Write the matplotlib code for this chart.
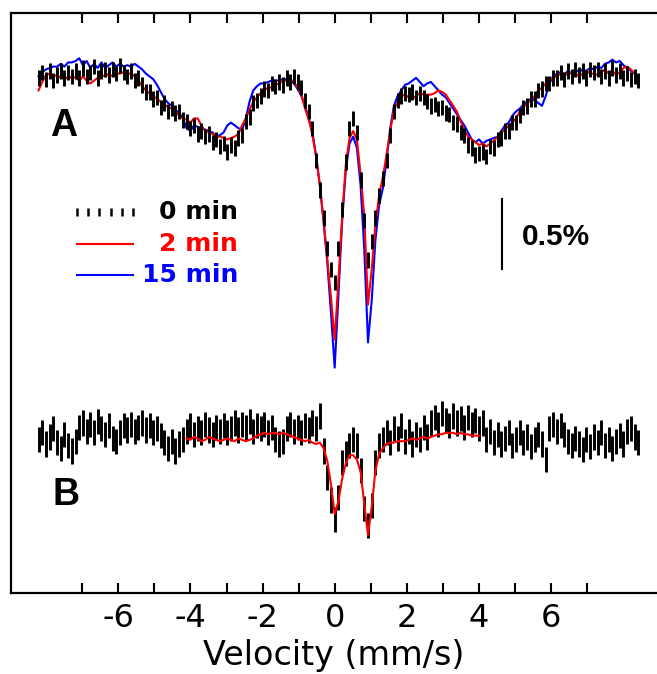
import matplotlib
matplotlib.use("Agg")
import matplotlib.pyplot as plt
import numpy as np

plt.rcParams['axes.unicode_minus'] = False

# ---------------- data ----------------
# channel velocity calibration (mm/s)
V_STEP = 0.1027
channels = np.arange(-80, 83)
velocity = channels * V_STEP

# Spectrum A: absorption depth (%) for 0 min (with error bars), 2 min, 15 min
black_A = np.array([
    0.02, -0.02, 0.03, -0.03, 0.04, 0.00, -0.03, 0.02, -0.02, 0.01,
    -0.03, 0.02, -0.05, 0.01, -0.02, -0.06, 0.02, -0.03, -0.04, 0.00,
    -0.04, -0.01, -0.07, -0.02, 0.01, -0.03, 0.04, 0.02, 0.07, 0.12,
    0.12, 0.17, 0.16, 0.23, 0.20, 0.26, 0.24, 0.27, 0.26, 0.32,
    0.33, 0.38, 0.36, 0.42, 0.40, 0.44, 0.42, 0.48, 0.46, 0.51,
    0.49, 0.55, 0.50, 0.52, 0.45, 0.43, 0.33, 0.30, 0.20, 0.18,
    0.15, 0.10, 0.11, 0.06, 0.08, 0.05, 0.07, 0.02, 0.05, 0.01,
    0.05, 0.09, 0.18, 0.26, 0.38, 0.61, 0.82, 1.02, 1.24, 1.39,
    1.48,
    1.24, 0.96, 0.62, 0.38, 0.31, 0.41, 0.75, 1.04, 1.32, 1.19,
    1.02, 0.86, 0.74, 0.61, 0.43, 0.26, 0.18, 0.15, 0.13,
    0.14, 0.12, 0.16, 0.13, 0.16, 0.19, 0.22, 0.21, 0.24, 0.23,
    0.27, 0.28, 0.34, 0.35, 0.41, 0.43, 0.50, 0.52, 0.57, 0.56,
    0.55, 0.58, 0.51, 0.52, 0.46, 0.45, 0.40, 0.40, 0.34, 0.34,
    0.29, 0.23, 0.22, 0.17, 0.17, 0.11, 0.10, 0.06, 0.06, 0.02,
    0.02, -0.02, 0.03, -0.03, 0.01, -0.04, 0.00, -0.03, 0.02, -0.04,
    -0.02, -0.04, 0.01, -0.03, 0.02, -0.05, 0.00, -0.03, 0.02, -0.01,
    0.03, 0.01, 0.04])

red_A = np.array([
    0.11, 0.05, 0.00, -0.01, 0.01, 0.00, 0.02, 0.01, 0.03, 0.01,
    0.02, 0.04, 0.01, 0.04, 0.06, 0.04, 0.02, 0.00, 0.01, -0.01,
    0.01, -0.01, -0.01, -0.02, -0.01, -0.01, 0.01, 0.04, 0.08, 0.11,
    0.13, 0.15, 0.17, 0.19, 0.21, 0.23, 0.24, 0.26, 0.29, 0.31,
    0.32, 0.34, 0.31, 0.31, 0.36, 0.40, 0.41, 0.42, 0.44, 0.44,
    0.45, 0.46, 0.45, 0.44, 0.42, 0.36, 0.31, 0.25, 0.19, 0.16,
    0.13, 0.11, 0.09, 0.09, 0.07, 0.06, 0.04, 0.04, 0.03, 0.05,
    0.09, 0.14, 0.24, 0.32, 0.43, 0.59, 0.79, 1.04, 1.31, 1.59,
    1.89,
    1.47, 1.02, 0.64, 0.45, 0.40, 0.46, 0.71, 1.01, 1.64, 1.39,
    1.07, 0.86, 0.73, 0.57, 0.40, 0.25, 0.19, 0.15, 0.14,
    0.16, 0.17, 0.15, 0.13, 0.14, 0.14, 0.14, 0.13, 0.11, 0.12,
    0.14, 0.18, 0.22, 0.26, 0.33, 0.39, 0.44, 0.46, 0.48, 0.50,
    0.49, 0.51, 0.49, 0.47, 0.44, 0.41, 0.39, 0.36, 0.34, 0.31,
    0.26, 0.23, 0.20, 0.18, 0.15, 0.11, 0.09, 0.06, 0.04, 0.02,
    0.01, -0.01, -0.01, 0.00, -0.02, -0.01, 0.01, -0.01, -0.03, -0.01,
    -0.01, 0.00, -0.02, -0.04, -0.01, -0.03, 0.00, -0.02, -0.05, -0.06,
    -0.04, -0.01, 0.02])

blue_A = np.array([
    0.01, -0.02, -0.04, -0.05, -0.06, -0.06, -0.08, -0.06, -0.09, -0.09,
    -0.10, -0.12, -0.07, -0.10, -0.05, -0.08, -0.05, -0.09, -0.05, -0.07,
    -0.09, -0.06, -0.08, -0.06, -0.07, -0.06, -0.08, -0.06, -0.04, -0.01,
    0.01, 0.03, 0.07, 0.12, 0.17, 0.20, 0.22, 0.25, 0.27, 0.31,
    0.38, 0.40, 0.36, 0.37, 0.38, 0.39, 0.40, 0.41, 0.44, 0.43,
    0.41, 0.36, 0.34, 0.36, 0.38, 0.39, 0.31, 0.19, 0.11, 0.08,
    0.06, 0.06, 0.05, 0.04, 0.04, 0.04, 0.03, 0.03, 0.04, 0.06,
    0.10, 0.15, 0.22, 0.31, 0.41, 0.58, 0.79, 1.05, 1.34, 1.70,
    2.09,
    1.58, 1.05, 0.68, 0.49, 0.44, 0.52, 0.79, 1.25, 1.91, 1.61,
    1.18, 0.93, 0.81, 0.61, 0.38, 0.22, 0.15, 0.11, 0.07,
    0.06, 0.04, 0.02, 0.05, 0.08, 0.06, 0.05, 0.08, 0.11, 0.14,
    0.16, 0.20, 0.24, 0.28, 0.32, 0.36, 0.41, 0.46, 0.48, 0.46,
    0.49, 0.47, 0.46, 0.45, 0.44, 0.40, 0.36, 0.34, 0.29, 0.26,
    0.24, 0.21, 0.19, 0.17, 0.18, 0.20, 0.22, 0.15, 0.06, 0.01,
    -0.01, -0.02, 0.00, -0.03, -0.01, -0.04, -0.02, -0.04, -0.03, -0.05,
    -0.04, -0.06, -0.05, -0.08, -0.09, -0.11, -0.09, -0.10, -0.07, -0.05,
    -0.03, -0.01, 0.01])

# Spectrum B: difference spectrum depth (%) and its fit (fit covers channels -40..39)
black_B = np.array([
    0.02, -0.03, 0.05, 0.00, -0.06, 0.04, 0.08, -0.02, 0.06, 0.10,
    0.03, -0.07, -0.10, -0.04, -0.09, -0.03, -0.11, -0.06, -0.02, -0.08,
    0.01, 0.03, -0.03, -0.08, -0.05, -0.09, -0.04, -0.07, -0.10, -0.05,
    -0.08, -0.03, -0.06, -0.01, 0.04, 0.08, 0.03, 0.10, 0.05, 0.02,
    -0.04, -0.08, -0.02, -0.06, -0.03, -0.09, -0.05, -0.02, -0.07, -0.04,
    -0.08, -0.03, -0.06, -0.10, -0.05, -0.09, -0.07, -0.11, -0.04, -0.08,
    -0.06, -0.09, -0.03, -0.07, 0.02, 0.05, 0.03, -0.06, -0.09, -0.04,
    -0.07, -0.03, -0.08, -0.05, -0.10, -0.06, -0.15, 0.10, 0.29, 0.45,
    0.59,
    0.43, 0.18, 0.12, 0.06, 0.02, 0.06, 0.24, 0.51, 0.63, 0.49,
    0.18, 0.06, 0.02, -0.03, 0.04, -0.06, 0.01, -0.08, 0.03,
    -0.04, 0.05, -0.02, 0.02, -0.07, 0.00, -0.10, -0.14, -0.09, -0.17,
    -0.12, -0.08, -0.15, -0.10, -0.13, -0.07, -0.14, -0.09, -0.12, -0.06,
    -0.10, 0.02, -0.04, 0.04, -0.02, 0.05, 0.01, -0.03, 0.06, 0.02,
    -0.03, 0.04, 0.00, 0.07, 0.02, -0.02, 0.05, 0.16, -0.06, -0.09,
    -0.04, -0.08, -0.02, 0.03, 0.06, 0.01, 0.05, 0.09, 0.02, 0.07,
    0.00, 0.04, -0.03, 0.06, 0.02, 0.08, 0.03, -0.01, 0.05, -0.04,
    -0.06, 0.00, 0.04])

red_B = np.array([
    0.01, 0.02, 0.00, 0.01, 0.03, 0.02, 0.00, 0.01, 0.02, 0.03,
    0.02, 0.01, 0.02, 0.03, 0.01, 0.02, 0.03, 0.02, 0.01, -0.01,
    -0.02, -0.03, -0.02, -0.03, -0.03, -0.02, -0.03, -0.02, -0.01, 0.00,
    0.01, 0.02, 0.03, 0.02, 0.04, 0.05, 0.04, 0.08, 0.17, 0.34,
    0.55,
    0.46, 0.30, 0.19, 0.13, 0.13, 0.16, 0.25, 0.48, 0.70, 0.50,
    0.24, 0.12, 0.08, 0.05, 0.04, 0.04, 0.03, 0.03, 0.03,
    0.02, 0.01, 0.02, 0.01, 0.00, 0.01, 0.00, -0.01, -0.02, -0.02,
    -0.03, -0.03, -0.03, -0.02, -0.03, -0.02, -0.02, -0.01, -0.01, -0.01])
red_B_velocity = velocity[40:120]

ERR_A = 0.055
ERR_B = 0.09
B_OFFSET = -2.586

legend_labels = ['0 min', '2 min', '15 min']
legend_colors = ['black', 'red', 'blue']

# ---------------- figure ----------------
fig = plt.figure(figsize=(6.57, 6.74), dpi=100)
ax = fig.add_axes([11 / 657, 1 - 593 / 674, 646 / 657, 580 / 674])

ax.plot(velocity, -blue_A, color='blue', lw=1.5, zorder=2)
ax.plot(velocity, -red_A, color='red', lw=1.5, zorder=2.5)
ax.errorbar(velocity, -black_A, yerr=ERR_A, fmt='none', ecolor='black',
            elinewidth=2.1, capsize=0, zorder=3)

ax.errorbar(velocity, B_OFFSET - black_B, yerr=ERR_B, fmt='none', ecolor='black',
            elinewidth=2.1, capsize=0, zorder=3)
ax.plot(red_B_velocity, B_OFFSET - red_B, color='red', lw=1.5, zorder=4)

ax.set_xlim(-8.979, 8.941)
ax.set_ylim(-3.700, 0.443)

for s in ['left', 'top', 'bottom']:
    ax.spines[s].set_linewidth(1.6)
ax.spines['right'].set_visible(False)

ax.set_xticks([-6, -4, -2, 0, 2, 4, 6])
ax.set_xticks([-7, -5, -3, -1, 1, 3, 5, 7], minor=True)
ax.tick_params(axis='x', which='both', direction='in', top=True, bottom=True,
               length=7, width=1.5, labelsize=23, pad=7)
ax.set_yticks([])
ax.set_xlabel('Velocity (mm/s)', fontsize=24, labelpad=4)

# panel letters
ax.text(-7.90, -0.436, 'A', fontsize=27, fontweight='bold',
        family='Liberation Sans', ha='left', va='baseline')
ax.text(-7.84, -3.071, 'B', fontsize=27, fontweight='bold',
        family='Liberation Sans', ha='left', va='baseline')

# legend (manual)
row_y = [-0.979, -1.207, -1.429]
h_x0, h_x1 = -7.146, -5.595
text_x = -2.68
ax.plot(np.linspace(h_x0, h_x1, 6), [row_y[0]] * 6, ls='none', marker='|',
        markersize=6, markeredgewidth=1.8, color='black')
ax.plot([h_x0, h_x1], [row_y[1]] * 2, color='red', lw=1.5)
ax.plot([h_x0, h_x1], [row_y[2]] * 2, color='blue', lw=1.5)
for lab, col, yy in zip(legend_labels, legend_colors, row_y):
    ax.text(text_x, yy, lab, color=col, fontsize=18, fontweight='bold',
            family='DejaVu Sans', ha='right', va='center')

# scale bar
ax.plot([4.641, 4.641], [-0.886, -1.386], color='black', lw=1.5)
ax.text(5.196, -1.157, '0.5%', fontsize=21.5, fontweight='bold',
        family='Liberation Sans', ha='left', va='center')

fig.savefig('out.png', dpi=100)
